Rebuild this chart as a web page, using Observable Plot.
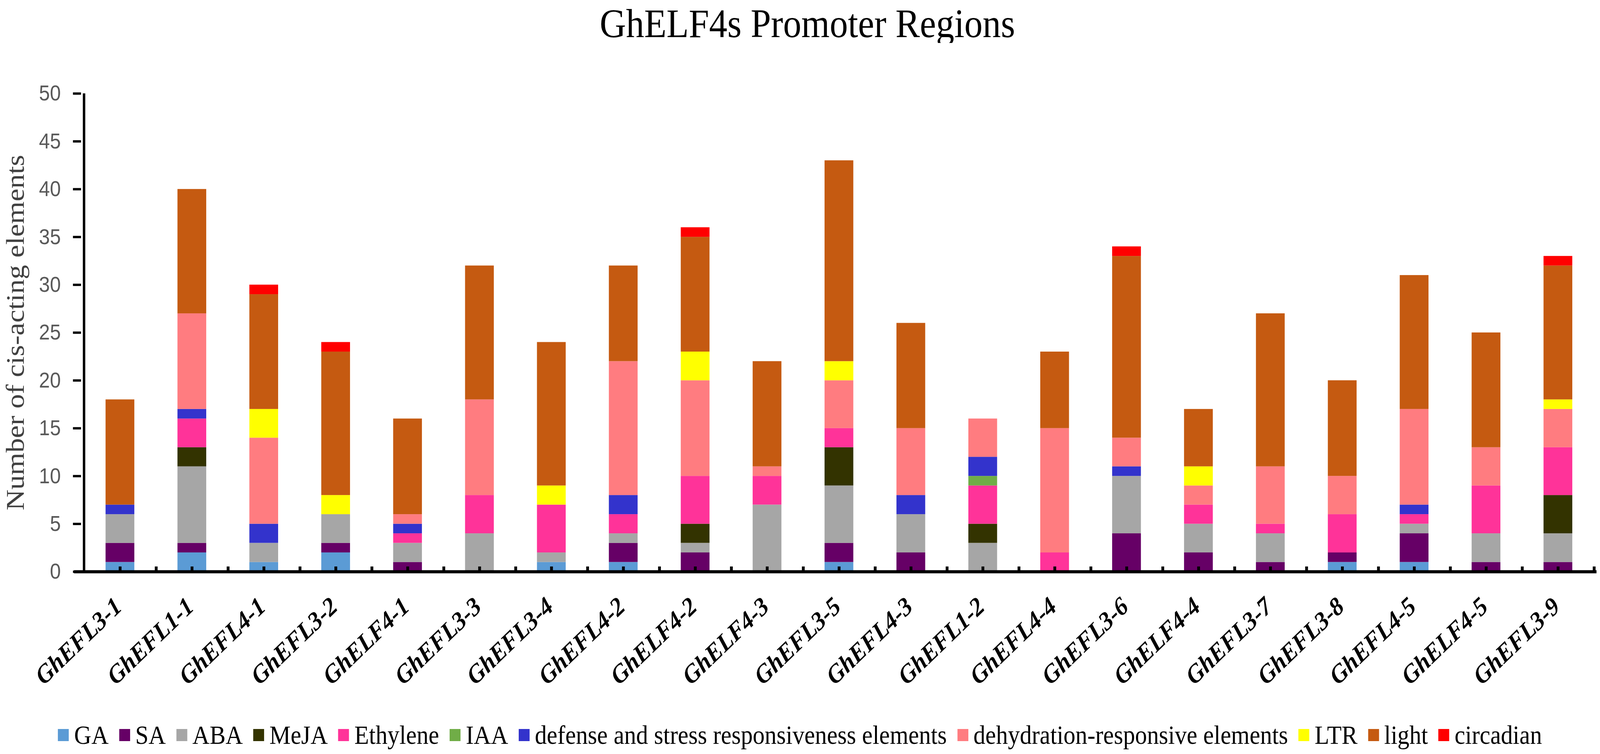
<!DOCTYPE html>
<html>
<head>
<meta charset="utf-8">
<script src="https://cdn.jsdelivr.net/npm/d3@7"></script>
<script src="https://cdn.jsdelivr.net/npm/@observablehq/plot@0.6"></script>
<style>
  html, body { margin: 0; padding: 0; background: #fff; overflow: hidden; }
  #wrap { position: relative; width: 4562px; height: 1930px; overflow: hidden; background: #fff;
          transform-origin: 0 0; }
  #title { position: absolute; left: 0; top: 2px; width: 4604px; text-align: center;
           font-family: "Liberation Serif", serif; font-size: 104px; line-height: 116px; color: #000; }
  #chart { position: absolute; left: 0; top: 110px; }
  #legend { position: absolute; left: 0; top: 1843px; width: 4562px; height: 76px;
            display: flex; justify-content: center; align-items: center; gap: 30px;
            font-family: "Liberation Serif", serif; font-size: 68px; line-height: 76px; color: #000; }
  .item { display: flex; align-items: center; white-space: nowrap; }
  .sw { width: 31px; height: 31px; margin-right: 15px; flex: none; }
</style>
</head>
<body>
<div id="wrap">
  <div id="title"></div>
  <div id="chart"></div>
  <div id="legend"></div>
</div>
<script>
const titleText = "GhELF4s Promoter Regions";
const yLabel = "Number of cis-acting elements";

const genes = ["GhEFL3-1","GhEFL1-1","GhEFL4-1","GhEFL3-2","GhELF4-1","GhEFL3-3","GhEFL3-4",
  "GhEFL4-2","GhELF4-2","GhELF4-3","GhEFL3-5","GhEFL4-3","GhEFL1-2","GhEFL4-4","GhEFL3-6",
  "GhELF4-4","GhEFL3-7","GhEFL3-8","GhEFL4-5","GhELF4-5","GhEFL3-9"];

const types = ["GA","SA","ABA","MeJA","Ethylene","IAA",
  "defense and stress responsiveness elements","dehydration-responsive elements",
  "LTR","light","circadian"];

const colors = ["#5B9BD5","#660066","#A6A6A6","#333300","#FF3399","#70AD47",
  "#3333CC","#FF7C80","#FFFF00","#C55A11","#FF0000"];

const GA          = [1,2,1,2,0,0,1,1,0,0,1,0,0,0,0,0,0,1,1,0,0];
const SA          = [2,1,0,1,1,0,0,2,2,0,2,2,0,0,4,2,1,1,3,1,1];
const ABA         = [3,8,2,3,2,4,1,1,1,7,6,4,3,0,6,3,3,0,1,3,3];
const MeJA        = [0,2,0,0,0,0,0,0,2,0,4,0,2,0,0,0,0,0,0,0,4];
const Ethylene    = [0,3,0,0,1,4,5,2,5,3,2,0,4,2,0,2,1,4,1,5,5];
const IAA         = [0,0,0,0,0,0,0,0,0,0,0,0,1,0,0,0,0,0,0,0,0];
const defense     = [1,1,2,0,1,0,0,2,0,0,0,2,2,0,1,0,0,0,1,0,0];
const dehydration = [0,10,9,0,1,10,0,14,10,1,5,7,4,13,3,2,6,4,10,4,4];
const LTR         = [0,0,3,2,0,0,2,0,3,0,2,0,0,0,0,2,0,0,0,0,1];
const light       = [11,13,12,15,10,14,15,10,12,11,21,11,0,8,19,6,16,10,14,12,14];
const circadian   = [0,0,1,1,0,0,0,0,1,0,0,0,0,0,1,0,0,0,0,0,1];

const yTicks = [0,5,10,15,20,25,30,35,40,45,50];

const series = [GA, SA, ABA, MeJA, Ethylene, IAA, defense, dehydration, LTR, light, circadian];
const rows = [];
types.forEach((t, k) => genes.forEach((g, i) => rows.push({gene: g, type: t, value: series[k][i]})));

// layout (design size 4562 x 1930)
const DW = 4562, DH = 1930;
const W = 4562, H = 1700, mL = 231, mR = 10, mT = 129, mB = 347;
const frameH = H - mT - mB;
const step = (W - mL - mR) / genes.length;

document.getElementById("title").textContent = titleText;

const chart = Plot.plot({
  width: W, height: H,
  marginLeft: mL, marginRight: mR, marginTop: mT, marginBottom: mB,
  x: {domain: genes, paddingInner: 0.6, paddingOuter: 0.3, axis: null},
  y: {domain: [0, 50], axis: null},
  color: {domain: types, range: colors},
  style: {background: "white", overflow: "visible"},
  marks: [
    Plot.barY(rows, {x: "gene", y: "value", fill: "type", order: types}),
    Plot.ruleX([genes[0]], {x: d => d, dx: -step / 2, stroke: "#000", strokeWidth: 7}),
    Plot.ruleY([0], {stroke: "#000", strokeWidth: 8, insetLeft: -20}),
    Plot.ruleX(genes, {x: d => d, stroke: "#000", strokeWidth: 8, insetTop: frameH - 13}),
    Plot.ruleX(genes, {x: d => d, dx: step / 2, stroke: "#000", strokeWidth: 8, insetTop: frameH - 13}),
    Plot.axisY({ticks: yTicks, tickSize: 23, tickPadding: 35, fontSize: 56,
      fontFamily: "Liberation Sans, sans-serif", fill: "#595959", stroke: "#000", strokeWidth: 6, label: null}),
    Plot.axisX({tickSize: 0, tickRotate: -41, tickPadding: 79, dx: -5, fontSize: 66,
      fontFamily: "Liberation Serif, serif", fontWeight: "bold", fontStyle: "italic", fill: "#000", label: null}),
    Plot.text([yLabel], {text: d => d, frameAnchor: "left", dx: -187, rotate: -90,
      textAnchor: "middle", lineAnchor: "middle", fontSize: 74,
      fontFamily: "Liberation Serif, serif", fill: "#404040"})
  ]
});
document.getElementById("chart").appendChild(chart);

const legend = document.getElementById("legend");
types.forEach((t, k) => {
  const item = document.createElement("div");
  item.className = "item";
  const sw = document.createElement("span");
  sw.className = "sw";
  sw.style.background = colors[k];
  const lab = document.createElement("span");
  lab.textContent = t;
  item.appendChild(sw);
  item.appendChild(lab);
  legend.appendChild(item);
});

// fit the design to the actual viewport
const wrap = document.getElementById("wrap");
function fit() {
  const sx = window.innerWidth / DW, sy = window.innerHeight / DH;
  wrap.style.transform = (Math.abs(sx - 1) < 0.001 && Math.abs(sy - 1) < 0.001) ? "" : `scale(${sx}, ${sy})`;
}
fit();
window.addEventListener("resize", fit);
</script>
</body>
</html>
